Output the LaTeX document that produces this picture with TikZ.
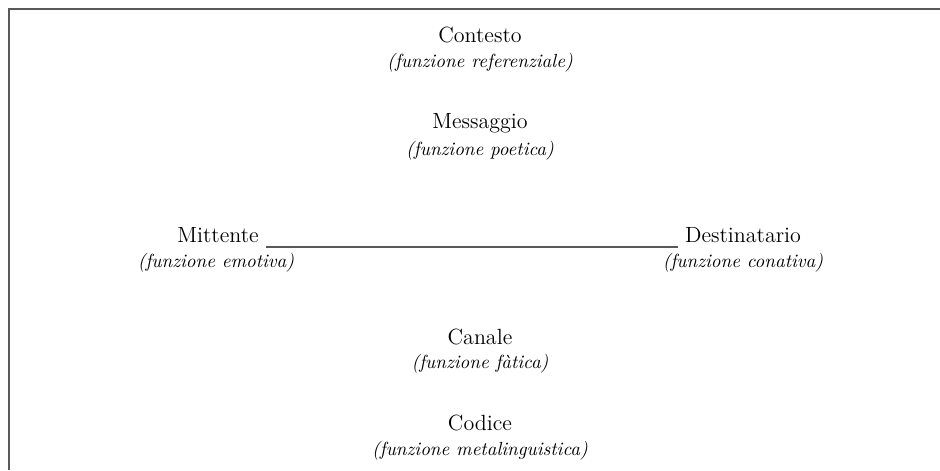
\documentclass[tikz,border=0pt]{standalone}
\usetikzlibrary{positioning}
\tikzset{
  voce/.style={font=\fontsize{11}{13}\selectfont},
  funz/.style={font=\fontsize{9.5}{11}\selectfont\itshape},
  linea/.style={draw=black!65, line width=1pt}
}
\begin{document}
\begin{tikzpicture}[x=0.5pt,y=-0.5pt]
            \useasboundingbox (0,0) rectangle (940,470);
            % Cornice
            \draw[linea] (940,9) -- (9,9) -- (9,470);

            % Fattori
            \node[voce] (conte) at (480,35) {Contesto};
            \node[funz] (contef) at (480,63) {(funzione referenziale)};
            \node[voce] (mess) at (480,123) {Messaggio};
            \node[funz] (messf) at (480,151) {(funzione poetica)};
            \node[voce] (mitt) at (218,235) {Mittente};
            \node[funz] (mittf) at (216,263) {(funzione emotiva)};
            \node[voce] (dest) at (743,235) {Destinatario};
            \node[funz] (destf) at (743,263) {(funzione conativa)};
            \node[voce] (can) at (480,337) {Canale};
            \node[funz] (canf) at (480,364) {(funzione fàtica)};
            \node[voce] (cod) at (480,423) {Codice};
            \node[funz] (codf) at (480,451) {(funzione metalinguistica)};

            % Collegamento
            \draw[linea] ([yshift=1.5pt]mitt.south east) -- ([yshift=1.5pt]dest.south west);
        \end{tikzpicture}
\end{document}
